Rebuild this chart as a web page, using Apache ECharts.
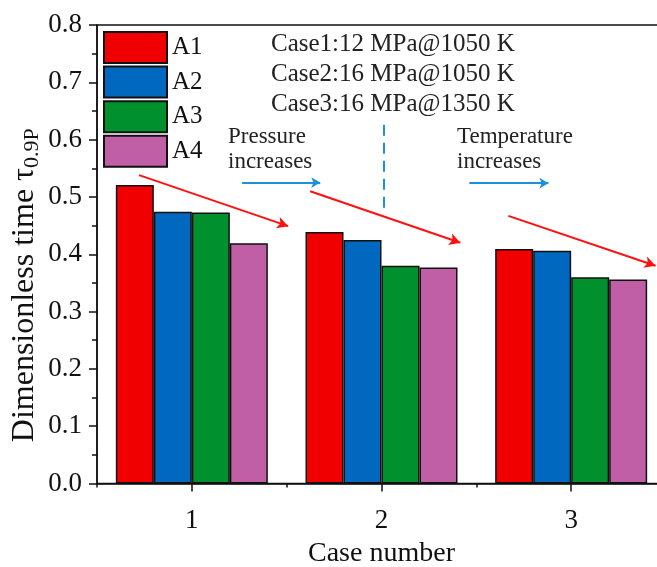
<!DOCTYPE html>
<html>
<head>
<meta charset="utf-8">
<script src="https://cdn.jsdelivr.net/npm/echarts@6/dist/echarts.min.js"></script>
<style>
html,body{margin:0;padding:0;background:#fff;}
#chart{width:657px;height:567px;}
</style>
</head>
<body>
<div id="chart"></div>
<script>
// ---- data ----
var categories = ['1', '2', '3'];
var seriesNames = ['A1', 'A2', 'A3', 'A4'];
var A1 = [0.521, 0.439, 0.409];
var A2 = [0.474, 0.425, 0.406];
var A3 = [0.473, 0.380, 0.360];
var A4 = [0.419, 0.377, 0.356];
var yTicks = [0.0, 0.1, 0.2, 0.3, 0.4, 0.5, 0.6, 0.7, 0.8];
var caseLines = ['Case1:12 MPa@1050 K', 'Case2:16 MPa@1050 K', 'Case3:16 MPa@1350 K'];
// annotation arrows in data coordinates (x: case number scale, y: value)
var redArrows = [
  [[0.722, 0.538], [1.508, 0.449]],
  [[1.624, 0.510], [2.416, 0.420]],
  [[2.669, 0.467], [3.445, 0.380]]
];
var blueArrows = [
  [[1.265, 0.525], [1.677, 0.525]],
  [[2.463, 0.524], [2.880, 0.524]]
];
var dividerLine = [[2.011, 0.626], [2.011, 0.477]];

var colors = ['#F00000', '#0068BE', '#00912E', '#C05EA6'];
var FONT = 'Liberation Serif';
var allValues = [A1, A2, A3, A4];

var chart = echarts.init(document.getElementById('chart'), null, {renderer: 'canvas'});

var series = seriesNames.map(function (n, i) {
  return {
    name: n,
    type: 'bar',
    xAxisIndex: 0,
    yAxisIndex: 0,
    data: allValues[i],
    barWidth: 38,
    barGap: '0%',
    itemStyle: {color: colors[i], borderColor: '#111', borderWidth: 1.5},
    emphasis: {disabled: true},
    animation: false
  };
});

function toPairs(list) {
  return list.map(function (seg) {
    return [{coord: seg[0]}, {coord: seg[1]}];
  });
}

series.push({
  type: 'line', xAxisIndex: 2, yAxisIndex: 0, data: [], silent: true, animation: false,
  markLine: {
    silent: true, animation: false,
    symbol: ['none', 'arrow'], symbolSize: [9, 11],
    label: {show: false},
    lineStyle: {color: '#FF1010', width: 2, type: 'solid'},
    emphasis: {disabled: true},
    data: toPairs(redArrows)
  }
});
series.push({
  type: 'line', xAxisIndex: 2, yAxisIndex: 0, data: [], silent: true, animation: false,
  markLine: {
    silent: true, animation: false,
    symbol: ['none', 'arrow'], symbolSize: [8, 9],
    label: {show: false},
    lineStyle: {color: '#1E8FDF', width: 2, type: 'solid'},
    emphasis: {disabled: true},
    data: toPairs(blueArrows)
  }
});
series.push({
  type: 'line', xAxisIndex: 2, yAxisIndex: 0, data: [], silent: true, animation: false,
  markLine: {
    silent: true, animation: false,
    symbol: ['none', 'none'],
    label: {show: false},
    lineStyle: {color: '#1E8FDF', width: 2, type: [11, 7]},
    emphasis: {disabled: true},
    data: toPairs([dividerLine])
  }
});

var option = {
  backgroundColor: '#fff',
  animation: false,
  textStyle: {fontFamily: FONT},
  grid: {
    left: 97, top: 25, width: 569, height: 458.5,
    outerBoundsMode: 'none', containLabel: false,
    show: true, borderColor: '#111', borderWidth: 1.5, backgroundColor: 'transparent'
  },
  legend: {
    data: seriesNames,
    orient: 'vertical',
    left: 103, top: 31, padding: 0,
    icon: 'rect',
    itemWidth: 63, itemHeight: 31, itemGap: 1.6,
    textStyle: {fontFamily: FONT, fontSize: 25, lineHeight: 28, color: '#111'},
    selectedMode: false
  },
  xAxis: [
    {
      type: 'category', data: categories, position: 'bottom',
      name: 'Case number', nameLocation: 'middle', nameGap: 54,
      nameTextStyle: {fontFamily: FONT, fontSize: 28, color: '#111'},
      axisLine: {show: true, lineStyle: {color: '#111', width: 1.5}},
      axisTick: {show: true, alignWithLabel: true, inside: false, length: 8, lineStyle: {color: '#111', width: 1.5}},
      axisLabel: {fontFamily: FONT, fontSize: 27, color: '#111', margin: 24},
      splitLine: {show: false}
    },
    {
      type: 'category', data: categories, position: 'bottom',
      axisLine: {show: false},
      axisTick: {show: true, alignWithLabel: false, inside: false, length: 4, lineStyle: {color: '#111', width: 1.5}},
      axisLabel: {show: false},
      splitLine: {show: false}
    },
    {
      type: 'value', min: 0.5, max: 3.5, show: false
    }
  ],
  yAxis: {
    type: 'value', min: yTicks[0], max: yTicks[yTicks.length - 1], interval: 0.1,
    name: '{a|Dimensionless time τ}{b|0.9P}',
    nameLocation: 'middle', nameGap: 54, nameRotate: 90, nameMoveOverlap: false,
    nameTextStyle: {
      fontFamily: FONT, color: '#111', padding: [0, 62, 0, 0],
      rich: {
        a: {fontFamily: FONT, fontSize: 32, color: '#111'},
        b: {fontFamily: FONT, fontSize: 22, color: '#111', padding: [14, 0, 0, 0]}
      }
    },
    axisLine: {show: true, lineStyle: {color: '#111', width: 1.5}},
    axisTick: {show: true, inside: false, length: 8, lineStyle: {color: '#111', width: 1.5}},
    minorTick: {show: true, splitNumber: 2, length: 5, lineStyle: {color: '#111', width: 1.5}},
    axisLabel: {
      fontFamily: FONT, fontSize: 27, color: '#111', margin: 15,
      formatter: function (v) { return v.toFixed(1); }
    },
    splitLine: {show: false}
  },
  graphic: [
    {
      type: 'text', left: 271, top: 29, silent: true,
      style: {text: caseLines.join('\n'), fontFamily: FONT, fontSize: 25, lineHeight: 30, fill: '#222'}
    },
    {
      type: 'text', left: 228, top: 124, silent: true,
      style: {text: 'Pressure\nincreases', fontFamily: FONT, fontSize: 23, lineHeight: 25, fill: '#222'}
    },
    {
      type: 'text', left: 457, top: 124, silent: true,
      style: {text: 'Temperature\nincreases', fontFamily: FONT, fontSize: 23, lineHeight: 25, fill: '#222'}
    }
  ],
  series: series
};
chart.setOption(option);
</script>
</body>
</html>
